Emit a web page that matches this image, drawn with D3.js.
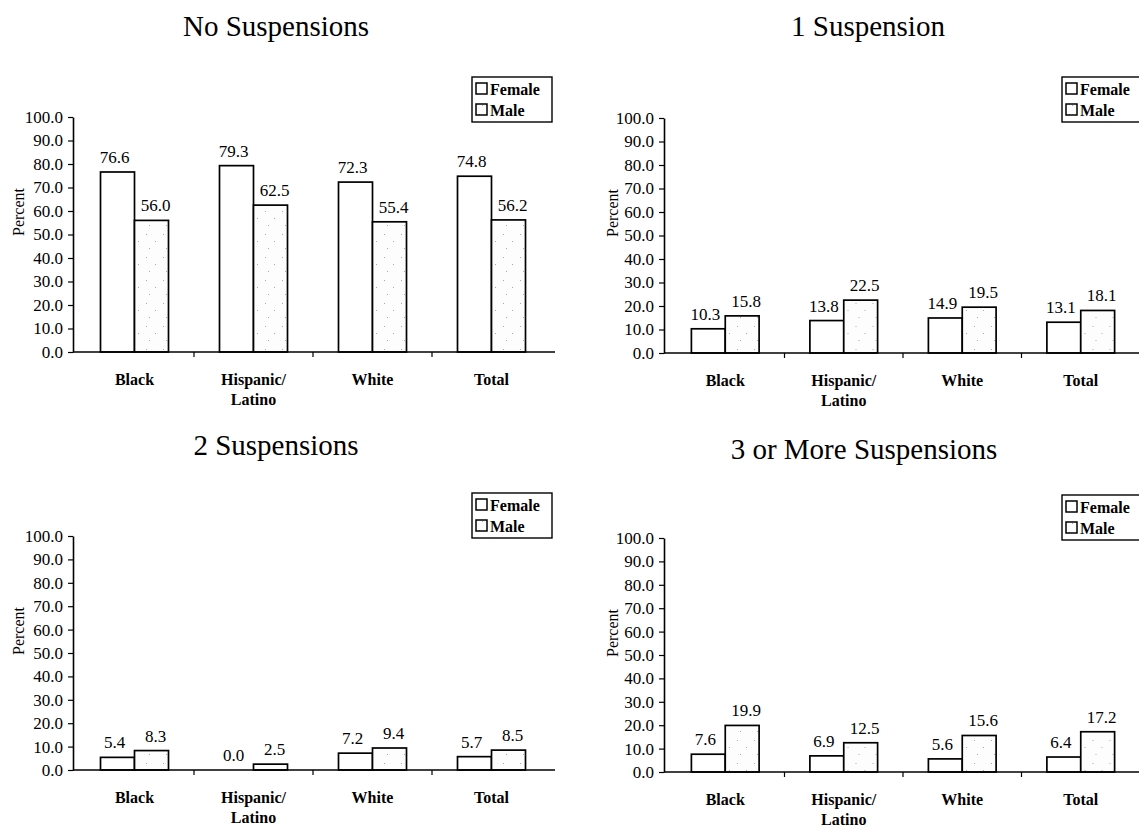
<!DOCTYPE html>
<html>
<head>
<meta charset="utf-8">
<script src="https://cdn.jsdelivr.net/npm/d3@7/dist/d3.min.js"></script>
<style>
  html, body { margin: 0; padding: 0; background: #fff; }
  svg { display: block; }
  text { font-family: "Liberation Serif", "Times New Roman", serif; fill: #000; }
</style>
</head>
<body>
<svg id="chart" width="1139" height="827" font-family="Liberation Serif, serif"></svg>
<script>
// Suspension counts by race/ethnicity and gender (percent of students)
const categories = ["Black", "Hispanic/\nLatino", "White", "Total"];
const series = ["Female", "Male"];
const yTicks = [0, 10, 20, 30, 40, 50, 60, 70, 80, 90, 100];

const titles = ["No Suspensions", "1 Suspension", "2 Suspensions", "3 or More Suspensions"];

const noneFemale  = [76.6, 79.3, 72.3, 74.8];
const noneMale    = [56.0, 62.5, 55.4, 56.2];
const oneFemale   = [10.3, 13.8, 14.9, 13.1];
const oneMale     = [15.8, 22.5, 19.5, 18.1];
const twoFemale   = [5.4, 0.0, 7.2, 5.7];
const twoMale     = [8.3, 2.5, 9.4, 8.5];
const threeFemale = [7.6, 6.9, 5.6, 6.4];
const threeMale   = [19.9, 12.5, 15.6, 17.2];

const panelValues = [
  [noneFemale, noneMale],
  [oneFemale, oneMale],
  [twoFemale, twoMale],
  [threeFemale, threeMale]
];

// Panel geometry
const layout = [
  { x0: 75,  x1: 551,  yTop: 117, yBot: 352, axisEnd: 555,  titleX: 276, titleY: 36,  legX: 472,  legY: 77,  ylabX: 18,  ylabY: 212 },
  { x0: 666, x1: 1140, yTop: 118, yBot: 353, axisEnd: 1139, titleX: 868, titleY: 36,  legX: 1062, legY: 77,  ylabX: 612, ylabY: 213 },
  { x0: 75,  x1: 551,  yTop: 536, yBot: 770, axisEnd: 555,  titleX: 276, titleY: 455, legX: 472,  legY: 493, ylabX: 18,  ylabY: 631 },
  { x0: 666, x1: 1140, yTop: 538, yBot: 772, axisEnd: 1139, titleX: 864, titleY: 459, legX: 1062, legY: 495, ylabX: 612, ylabY: 633 }
];

const svg = d3.select("#chart");

// Light, sparse stipple used for the Male bars
const defs = svg.append("defs");
const pat = defs.append("pattern")
  .attr("id", "stipple")
  .attr("patternUnits", "userSpaceOnUse")
  .attr("width", 17).attr("height", 23);
pat.append("rect").attr("width", 17).attr("height", 23).attr("fill", "#fdfdfd");
[[3, 4], [12, 11], [6, 18]].forEach(([cx, cy]) => {
  pat.append("rect").attr("x", cx).attr("y", cy).attr("width", 1).attr("height", 1).attr("fill", "#aaa");
});

const fills = { Female: "#fff", Male: "url(#stipple)" };
const serif = '"Liberation Serif", "Times New Roman", serif';

panelValues.forEach((vals, i) => {
  const L = layout[i];
  const g = svg.append("g");

  const x = d3.scaleBand().domain(categories).range([L.x0, L.x1]);
  const xSub = d3.scaleBand().domain(series).range([0, x.bandwidth()]).paddingOuter(0.75);
  const y = d3.scaleLinear().domain([0, 100]).range([L.yBot, L.yTop]);

  // Title
  g.append("text")
    .attr("x", L.titleX).attr("y", L.titleY)
    .attr("text-anchor", "middle")
    .style("font-family", serif)
    .style("font-size", "29px")
    .text(titles[i]);

  // Y axis
  const yAxis = d3.axisLeft(y)
    .tickValues(yTicks)
    .tickFormat(d3.format(".1f"))
    .tickSizeInner(5).tickSizeOuter(0).tickPadding(5);
  const ya = g.append("g")
    .attr("transform", `translate(${L.x0 - 2},0)`)
    .call(yAxis)
    .attr("font-family", null).attr("font-size", null);
  ya.select(".domain").attr("stroke", "#000").attr("stroke-width", 1.6);
  ya.selectAll(".tick line").attr("stroke", "#000").attr("stroke-width", 1.2);
  ya.selectAll(".tick text")
    .style("font-family", serif)
    .style("font-size", "17px")
    .attr("fill", "#000");

  // Y axis title
  g.append("text")
    .attr("transform", `translate(${L.ylabX},${L.ylabY}) rotate(-90)`)
    .attr("text-anchor", "middle")
    .attr("dy", "0.35em")
    .style("font-family", serif)
    .style("font-size", "16px")
    .text("Percent");

  // Bars
  const groups = g.selectAll(".grp")
    .data(categories.map((c, k) => ({ c, k })))
    .join("g")
    .attr("transform", d => `translate(${x(d.c)},0)`);

  groups.selectAll("rect")
    .data(d => series.map((s, j) => ({ s, v: vals[j][d.k] })))
    .join("rect")
    .attr("x", d => xSub(d.s))
    .attr("width", xSub.bandwidth())
    .attr("y", d => y(d.v))
    .attr("height", d => y(0) - y(d.v))
    .attr("fill", d => fills[d.s])
    .attr("stroke", d => d.v > 0 ? "#000" : "none")
    .attr("stroke-width", 1.7);

  // Value labels
  groups.selectAll("text.val")
    .data(d => series.map((s, j) => ({ s, v: vals[j][d.k] })))
    .join("text")
    .attr("class", "val")
    .attr("x", d => xSub(d.s) + xSub.bandwidth() / 2 + (d.s === "Female" ? -3 : 4))
    .attr("y", d => y(d.v) - 9)
    .attr("text-anchor", "middle")
    .style("font-family", serif)
    .style("font-size", "17px")
    .text(d => d.v.toFixed(1));

  // X axis baseline with group dividers
  const xAxis = d3.axisBottom(x).tickValues([]).tickSizeOuter(0);
  const xa = g.append("g").attr("transform", `translate(0,${L.yBot})`).call(xAxis);
  xa.select(".domain").remove();
  xa.append("line")
    .attr("x1", L.x0 - 2).attr("x2", L.axisEnd)
    .attr("stroke", "#000").attr("stroke-width", 1.7);
  xa.selectAll(".div")
    .data(categories.slice(1))
    .join("line")
    .attr("class", "div")
    .attr("x1", d => x(d)).attr("x2", d => x(d))
    .attr("y1", 0).attr("y2", 5)
    .attr("stroke", "#000").attr("stroke-width", 1.2);

  // Category labels
  const cl = g.selectAll("text.cat")
    .data(categories)
    .join("text")
    .attr("class", "cat")
    .attr("x", d => x(d) + x.bandwidth() / 2)
    .attr("y", L.yBot + 33)
    .attr("text-anchor", "middle")
    .style("font-family", serif)
    .style("font-size", "16px")
    .style("font-weight", "bold");
  cl.each(function(d) {
    const parts = d.split("\n");
    d3.select(this).selectAll("tspan")
      .data(parts)
      .join("tspan")
      .attr("x", x(d) + x.bandwidth() / 2)
      .attr("dy", (p, k) => k === 0 ? 0 : 20)
      .text(p => p);
  });

  // Legend
  const lg = g.append("g").attr("transform", `translate(${L.legX},${L.legY})`);
  lg.append("rect")
    .attr("width", 80).attr("height", 45)
    .attr("fill", "#fff").attr("stroke", "#000").attr("stroke-width", 1.4);
  series.forEach((s, j) => {
    const row = lg.append("g").attr("transform", `translate(4,${12 + j * 21})`);
    row.append("rect")
      .attr("x", 0).attr("y", -6).attr("width", 11).attr("height", 11)
      .attr("fill", fills[s]).attr("stroke", "#000").attr("stroke-width", 1.5);
    row.append("text")
      .attr("x", 14).attr("y", 0).attr("dy", "0.35em")
      .style("font-family", serif)
      .style("font-size", "16px").style("font-weight", "bold")
      .text(s);
  });
});
</script>
</body>
</html>
